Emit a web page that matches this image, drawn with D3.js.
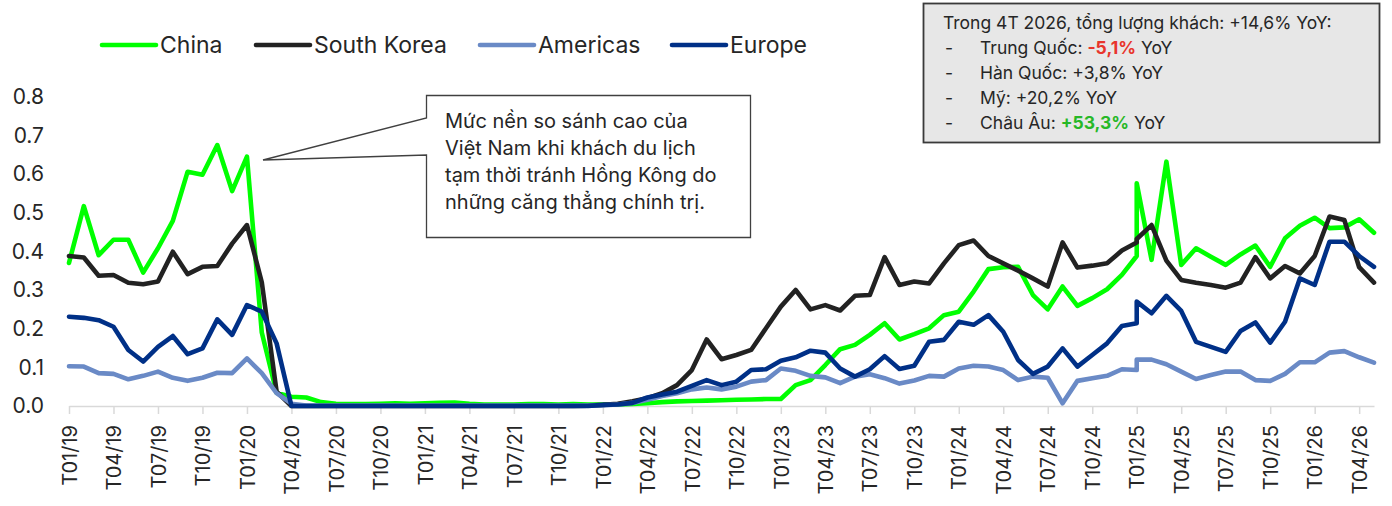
<!DOCTYPE html>
<html>
<head>
<meta charset="utf-8">
<script src="https://cdn.jsdelivr.net/npm/d3@7"></script>
<style>
  body { margin: 0; background: #ffffff; }
  svg { display: block; font-family: Inter, "Noto Sans", "DejaVu Sans", sans-serif; }
</style>
</head>
<body>
<svg id="chart" width="1392" height="506"></svg>
<script>
// Monthly periods (January 2025 carries two readings in the source series)
const months = [
  "T01/19","T02/19","T03/19","T04/19","T05/19","T06/19","T07/19","T08/19","T09/19","T10/19","T11/19","T12/19",
  "T01/20","T02/20","T03/20","T04/20","T05/20","T06/20","T07/20","T08/20","T09/20","T10/20","T11/20","T12/20",
  "T01/21","T02/21","T03/21","T04/21","T05/21","T06/21","T07/21","T08/21","T09/21","T10/21","T11/21","T12/21",
  "T01/22","T02/22","T03/22","T04/22","T05/22","T06/22","T07/22","T08/22","T09/22","T10/22","T11/22","T12/22",
  "T01/23","T02/23","T03/23","T04/23","T05/23","T06/23","T07/23","T08/23","T09/23","T10/23","T11/23","T12/23",
  "T01/24","T02/24","T03/24","T04/24","T05/24","T06/24","T07/24","T08/24","T09/24","T10/24","T11/24","T12/24",
  "T01/25","T01/25","T02/25","T03/25","T04/25","T05/25","T06/25","T07/25","T08/25","T09/25","T10/25","T11/25","T12/25",
  "T01/26","T02/26","T03/26","T04/26","T05/26"
];

const china = [
  0.370,0.517,0.390,0.430,0.430,0.345,0.408,0.479,0.606,0.598,0.675,0.556,
  0.645,0.190,0.034,0.024,0.022,0.010,0.006,0.005,0.005,0.006,0.007,0.006,
  0.007,0.008,0.009,0.006,0.004,0.004,0.004,0.005,0.005,0.004,0.005,0.004,
  0.004,0.004,0.005,0.007,0.010,0.012,0.013,0.014,0.015,0.016,0.017,0.018,
  0.018,0.054,0.067,0.106,0.147,0.158,0.184,0.214,0.172,0.186,0.201,0.235,
  0.244,0.296,0.354,0.359,0.360,0.287,0.250,0.309,0.259,0.279,0.302,0.339,
  0.388,0.576,0.378,0.632,0.365,0.408,0.386,0.365,0.392,0.415,0.360,0.434,0.466,
  0.487,0.460,0.462,0.483,0.448
];

const southKorea = [
  0.388,0.384,0.337,0.339,0.319,0.315,0.322,0.399,0.341,0.360,0.362,0.420,
  0.468,0.320,0.037,0.000,0.000,0.000,0.000,0.000,0.000,0.000,0.000,0.000,
  0.000,0.000,0.000,0.000,0.000,0.000,0.000,0.000,0.000,0.000,0.000,0.001,
  0.003,0.006,0.012,0.020,0.033,0.054,0.093,0.172,0.121,0.132,0.145,0.201,
  0.257,0.300,0.250,0.261,0.247,0.285,0.287,0.385,0.313,0.322,0.317,0.369,
  0.416,0.428,0.388,0.369,0.350,0.330,0.309,0.423,0.358,0.363,0.369,0.402,
  0.423,0.432,0.468,0.376,0.326,0.319,0.313,0.306,0.319,0.385,0.330,0.362,0.343,
  0.388,0.490,0.481,0.359,0.319
];

const americas = [
  0.103,0.102,0.085,0.083,0.069,0.078,0.089,0.073,0.065,0.073,0.086,0.085,
  0.123,0.085,0.033,0.006,0.001,0.001,0.001,0.001,0.001,0.001,0.001,0.001,
  0.001,0.001,0.001,0.001,0.001,0.001,0.001,0.001,0.001,0.001,0.001,0.001,
  0.002,0.004,0.008,0.016,0.026,0.033,0.043,0.048,0.043,0.050,0.063,0.067,
  0.097,0.091,0.078,0.074,0.059,0.076,0.082,0.072,0.058,0.066,0.078,0.076,
  0.097,0.104,0.102,0.093,0.067,0.076,0.073,0.007,0.065,0.072,0.078,0.095,
  0.093,0.120,0.120,0.108,0.089,0.070,0.080,0.089,0.089,0.067,0.065,0.083,0.113,
  0.113,0.138,0.142,0.126,0.112
];

const europe = [
  0.231,0.228,0.222,0.205,0.145,0.115,0.153,0.181,0.134,0.149,0.224,0.184,
  0.261,0.244,0.162,0.000,0.000,0.000,0.000,0.000,0.000,0.000,0.000,0.000,
  0.000,0.000,0.000,0.000,0.000,0.000,0.000,0.000,0.000,0.000,0.000,0.000,
  0.003,0.004,0.008,0.022,0.030,0.037,0.052,0.067,0.054,0.063,0.093,0.095,
  0.117,0.126,0.143,0.138,0.097,0.076,0.095,0.129,0.096,0.104,0.166,0.171,
  0.218,0.210,0.235,0.192,0.119,0.083,0.102,0.149,0.102,0.132,0.162,0.207,
  0.214,0.270,0.240,0.285,0.246,0.166,0.153,0.140,0.194,0.216,0.164,0.218,0.330,
  0.313,0.425,0.425,0.388,0.360
];

const seriesNames = ["China", "South Korea", "Americas", "Europe"];
const seriesColors = ["#00ff00", "#222222", "#6a8ac6", "#003087"];

const xTickLabels = [
  "T01/19","T04/19","T07/19","T10/19","T01/20","T04/20","T07/20","T10/20",
  "T01/21","T04/21","T07/21","T10/21","T01/22","T04/22","T07/22","T10/22",
  "T01/23","T04/23","T07/23","T10/23","T01/24","T04/24","T07/24","T10/24",
  "T01/25","T04/25","T07/25","T10/25","T01/26","T04/26"
];
const yTickValues = [0, 0.1, 0.2, 0.3, 0.4, 0.5, 0.6, 0.7, 0.8];

const noteLines = [
  "Mức nền so sánh cao của",
  "Việt Nam khi khách du lịch",
  "tạm thời tránh Hồng Kông do",
  "những căng thẳng chính trị."
];

const summaryLines = [
  { dash: false, parts: [{ t: "Trong 4T 2026, tổng lượng khách: +14,6% YoY:" }] },
  { dash: true, parts: [{ t: "Trung Quốc: " }, { t: "-5,1%", c: "#e8352c", b: true }, { t: " YoY" }] },
  { dash: true, parts: [{ t: "Hàn Quốc: +3,8% YoY" }] },
  { dash: true, parts: [{ t: "Mỹ: +20,2% YoY" }] },
  { dash: true, parts: [{ t: "Châu Âu: " }, { t: "+53,3%", c: "#27b827", b: true }, { t: " YoY" }] }
];

// month label "Tmm/yy" -> months elapsed since January 2019
const monthIndex = s => (+s.slice(4, 6) - 19) * 12 + (+s.slice(1, 3) - 1);

const svg = d3.select("#chart");
const textColor = "#262626";

const x = d3.scaleLinear()
  .domain([0, d3.max(months, monthIndex)])
  .range([69, 1374]);
const y = d3.scaleLinear()
  .domain([0, 0.8])
  .range([406, 96.7]);

// x axis with rotated month labels
const xAxis = d3.axisBottom(x)
  .tickValues(xTickLabels.map(monthIndex))
  .tickFormat((d, i) => xTickLabels[i])
  .tickSize(8)
  .tickSizeOuter(0);

const gx = svg.append("g")
  .attr("transform", `translate(0,${y(0)})`)
  .call(xAxis);
gx.select(".domain").attr("stroke", "#d9d9d9").attr("stroke-width", 1.5);
gx.selectAll(".tick line").attr("stroke", "#d9d9d9").attr("stroke-width", 1.5);
gx.selectAll(".tick text")
  .attr("y", 0).attr("x", 0).attr("dy", "0.36em")
  .attr("transform", "translate(0,19) rotate(-90)")
  .attr("text-anchor", "end")
  .attr("font-size", 20)
  .attr("font-family", "Inter, 'Noto Sans', sans-serif")
  .attr("fill", textColor);

// y axis labels only
const yAxis = d3.axisLeft(y)
  .tickValues(yTickValues)
  .tickFormat(d3.format(".1f"))
  .tickSize(0)
  .tickPadding(0);
const gy = svg.append("g").attr("transform", "translate(44,0)").call(yAxis);
gy.select(".domain").remove();
gy.selectAll(".tick text")
  .attr("font-size", 21)
  .attr("font-family", "Inter, 'Noto Sans', sans-serif")
  .attr("fill", textColor);

// series lines
const allSeries = [china, southKorea, americas, europe];
const line = d3.line()
  .x(d => x(monthIndex(d.m)))
  .y(d => y(d.v));

allSeries.forEach((vals, k) => {
  const pts = months.map((m, i) => ({ m, v: vals[i] }));
  svg.append("path")
    .datum(pts)
    .attr("d", line)
    .attr("fill", "none")
    .attr("stroke", seriesColors[k])
    .attr("stroke-width", 4.6)
    .attr("stroke-linejoin", "round")
    .attr("stroke-linecap", "round");
});

// legend
const legendOffsets = [0, 154, 378, 570];
const legend = svg.append("g").attr("transform", "translate(102,45)");
seriesNames.forEach((name, k) => {
  const g = legend.append("g").attr("transform", `translate(${legendOffsets[k]},0)`);
  g.append("line")
    .attr("x1", 0).attr("x2", 54).attr("y1", 0).attr("y2", 0)
    .attr("stroke", seriesColors[k]).attr("stroke-width", 4.6)
    .attr("stroke-linecap", "round");
  g.append("text")
    .attr("x", 58).attr("y", 0).attr("dy", "0.36em")
    .attr("font-size", 23)
    .attr("fill", textColor)
    .text(name);
});

// callout with pointer
const box = { x0: 426.5, y0: 95.5, x1: 750.5, y1: 237.5 };
const tip = [263, 160];
svg.append("path")
  .attr("d", `M${box.x0},${box.y0} L${box.x1},${box.y0} L${box.x1},${box.y1} L${box.x0},${box.y1} L${box.x0},155 L${tip[0]},${tip[1]} L${box.x0},118 Z`)
  .attr("fill", "#ffffff")
  .attr("stroke", "#404040")
  .attr("stroke-width", 1.3);
noteLines.forEach((s, i) => {
  svg.append("text")
    .attr("x", 445).attr("y", 128 + i * 27)
    .attr("font-size", 20)
    .attr("fill", textColor)
    .text(s);
});

// summary panel
svg.append("rect")
  .attr("x", 923.5).attr("y", 3.5).attr("width", 456).attr("height", 139)
  .attr("fill", "#e7e7e7")
  .attr("stroke", "#3a3a3a")
  .attr("stroke-width", 1.8);
summaryLines.forEach((ln, i) => {
  const yy = 29 + i * 25;
  if (ln.dash) {
    svg.append("text").attr("x", 945).attr("y", yy)
      .attr("font-size", 17.5).attr("fill", textColor).text("-");
  }
  const t = svg.append("text")
    .attr("x", ln.dash ? 980 : 943).attr("y", yy)
    .attr("font-size", 17.5).attr("fill", textColor);
  ln.parts.forEach(p => {
    t.append("tspan")
      .attr("fill", p.c || textColor)
      .attr("font-weight", p.b ? 700 : 400)
      .text(p.t);
  });
});
</script>
</body>
</html>
